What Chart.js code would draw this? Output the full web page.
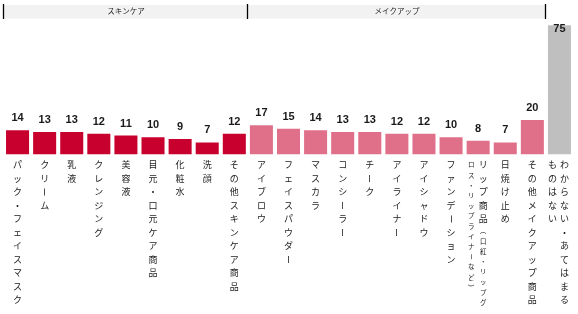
<!DOCTYPE html>
<html>
<head>
<meta charset="utf-8">
<script src="https://cdn.jsdelivr.net/npm/chart.js@4/dist/chart.umd.min.js"></script>
<style>
html,body{margin:0;padding:0;background:#fff;}
#wrap{width:578px;height:314px;position:relative;}
</style>
</head>
<body>
<div id="wrap"><canvas id="c" width="578" height="314"></canvas></div>
<script>
const categories = ['パック・フェイスマスク','クリーム','乳液','クレンジング','美容液','目元・口元ケア商品','化粧水','洗顔','その他スキンケア商品','アイブロウ','フェイスパウダー','マスカラ','コンシーラー','チーク','アイライナー','アイシャドウ','ファンデーション','リップ商品（口紅・リップグロス・リップライナーなど）','日焼け止め','その他メイクアップ商品','わからない・あてはまるものはない'];
const values = [14,13,13,12,11,10,9,7,12,17,15,14,13,13,12,12,10,8,7,20,75];
const groupNames = ['スキンケア','メイクアップ'];
const groupSizes = [9,11];
// label columns (right to left), each column: list of [text, small?]
const labelColumns = categories.map((c,i)=>{
  if (i===17) return [[['リップ商品',false],['（口紅・リップグ',true]],[['ロス・リップライナーなど）',true]]];
  if (i===20) return [[['わからない・あてはまる',false]],[['ものはない',false]]];
  return [[[c,false]]];
});
const colors = values.map((v,i)=> i<9 ? '#c8002e' : (i<20 ? '#e07089' : '#bfbfbf'));

const rotChars = 'ー（）';
const labelPlugin = {
  id:'labels',
  afterDatasetsDraw(chart){
    const ctx = chart.ctx;
    const xs = chart.scales.x;
    const meta = chart.getDatasetMeta(0);
    const top = chart.chartArea.top;
    ctx.save();
    // value labels
    ctx.font = 'bold 11px "Liberation Sans", Arial, sans-serif';
    ctx.fillStyle = '#1a1a1a';
    ctx.textAlign = 'center';
    ctx.textBaseline = 'alphabetic';
    meta.data.forEach((bar,i)=>{
      let yb = bar.y - 9;
      if (yb - 9 < top) yb = bar.y + 7;
      ctx.fillText(String(values[i]), bar.x, yb);
    });
    // vertical category labels
    ctx.fillStyle = '#222';
    ctx.textBaseline = 'middle';
    meta.data.forEach((bar,i)=>{
      const cols = labelColumns[i];
      const n = cols.length;
      cols.forEach((col,ci)=>{
        const cx = bar.x + (n===1 ? 0 : (ci===0 ? 5 : -7));
        let y = 165;
        col.forEach(([txt,small])=>{
          const fs = small ? 6.5 : 9;
          const pitch = small ? 10.2 : 13.5;
          ctx.font = fs + 'px "Noto Sans CJK JP", sans-serif';
          for (const ch of txt){
            if (rotChars.includes(ch)){
              ctx.save(); ctx.translate(cx, y); ctx.rotate(Math.PI/2);
              ctx.fillText(ch, 0, 0); ctx.restore();
            } else {
              ctx.fillText(ch, cx, y);
            }
            y += pitch;
          }
          if (!small && col.length>1) y -= 1.5;
        });
      });
    });
    // header band
    const step = xs.getPixelForValue(1) - xs.getPixelForValue(0);
    const left = xs.getPixelForValue(0) - step/2;
    let idx = 0;
    const bounds = [left];
    groupSizes.forEach(s=>{ idx += s; bounds.push(xs.getPixelForValue(idx) - step/2); });
    ctx.fillStyle = '#f2f2f2';
    ctx.fillRect(bounds[0], 5, bounds[bounds.length-1]-bounds[0], 13.5);
    ctx.strokeStyle = '#000';
    ctx.lineWidth = 1.3;
    bounds.forEach(b=>{ ctx.beginPath(); ctx.moveTo(Math.round(b)-0.5, 4); ctx.lineTo(Math.round(b)-0.5, 19); ctx.stroke(); });
    ctx.fillStyle = '#222';
    ctx.font = '7.5px "Noto Sans CJK JP", sans-serif';
    ctx.textAlign = 'center';
    ctx.textBaseline = 'middle';
    groupNames.forEach((g,k)=>{ ctx.fillText(g, (bounds[k]+bounds[k+1])/2, 11.5); });
    ctx.restore();
  }
};

new Chart(document.getElementById('c'), {
  type:'bar',
  data:{ labels: categories, datasets:[{ data: values, backgroundColor: colors, borderWidth:0, barPercentage:0.85, categoryPercentage:1 }] },
  options:{
    responsive:false, animation:false,
    layout:{ padding:{ left:4, right:5, top:20, bottom:159.5 } },
    plugins:{ legend:{display:false}, tooltip:{enabled:false} },
    scales:{
      x:{ display:false, grid:{display:false} },
      y:{ display:false, min:0, max:78, grid:{display:false} }
    }
  },
  plugins:[labelPlugin]
});
</script>
</body>
</html>
